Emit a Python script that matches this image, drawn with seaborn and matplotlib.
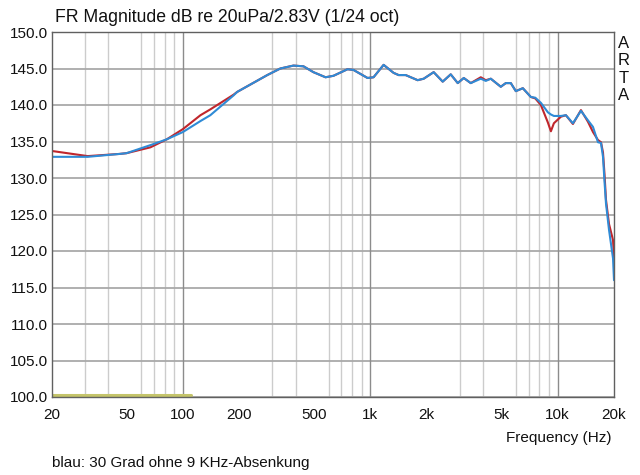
import numpy as np
import pandas as pd
import matplotlib
matplotlib.use("Agg")
import matplotlib.pyplot as plt
import seaborn as sns
from matplotlib.ticker import FixedLocator, LogLocator, NullFormatter

# ---- data ----
freq = [20, 31, 46, 50, 67, 82, 100, 124, 140, 186, 195, 282, 331, 389, 440, 497,
        577, 636, 756, 814, 967, 1041, 1178, 1332, 1417, 1545, 1790, 1928, 2180,
        2436, 2688, 2930, 3155, 3439, 3890, 4137, 4399, 4974, 5290, 5626, 5984,
        6522, 7196, 7600, 8140, 8874, 9208, 9554, 10416, 11075, 12072, 13320,
        14522, 15444, 16426, 17044, 17470, 17800, 18126, 18810, 19758, 20000]

red_db = [133.7, 133.0, 133.3, 133.4, 134.2, 135.3, 136.7, 138.6, 139.4, 141.4,
          141.8, 144.1, 145.0, 145.4, 145.3, 144.5, 143.8, 144.0, 144.9, 144.8,
          143.7, 143.8, 145.5, 144.4, 144.1, 144.1, 143.4, 143.6, 144.5, 143.2,
          144.2, 143.0, 143.7, 143.0, 143.8, 143.4, 143.6, 142.5, 143.0, 143.0,
          141.9, 142.3, 141.1, 140.9, 140.0, 137.6, 136.4, 137.5, 138.4, 138.6,
          137.4, 139.3, 137.7, 136.3, 135.2, 134.9, 133.5, 130.5, 127.0, 123.7,
          121.5, 119.0]

blue_db = [132.9, 132.9, 133.3, 133.4, 134.5, 135.3, 136.3, 137.8, 138.6, 141.3,
           141.8, 144.1, 145.0, 145.4, 145.3, 144.5, 143.8, 144.0, 144.9, 144.8,
           143.7, 143.8, 145.5, 144.4, 144.1, 144.1, 143.4, 143.6, 144.5, 143.2,
           144.2, 143.0, 143.7, 143.0, 143.6, 143.3, 143.6, 142.5, 143.0, 143.0,
           141.9, 142.3, 141.1, 141.0, 140.3, 139.0, 138.7, 138.5, 138.5, 138.6,
           137.5, 139.2, 137.9, 137.0, 134.9, 134.8, 132.9, 129.5, 126.5, 122.9,
           119.0, 116.0]

marker_freq = [20, 110]
marker_db = [100.3, 100.3]

x_ticks = [20, 50, 100, 200, 500, 1000, 2000, 5000, 10000, 20000]
x_labels = ["20", "50", "100", "200", "500", "1k", "2k", "5k", "10k", "20k"]
y_ticks = [100, 105, 110, 115, 120, 125, 130, 135, 140, 145, 150]
decades = [100, 1000, 10000]

# ---- plotting ----
sns.set_style("white")
plt.rcParams["font.family"] = ["Liberation Sans", "DejaVu Sans"]

fig = plt.figure(figsize=(6.4, 4.75), dpi=100)
ax = fig.add_axes([52/640, 1-397/475, (614-52)/640, (397-32)/475])

df_red = pd.DataFrame({"f": freq, "db": red_db})
df_blue = pd.DataFrame({"f": freq, "db": blue_db})
df_mark = pd.DataFrame({"f": marker_freq, "db": marker_db})

ax.set_xscale("log")
ax.set_xlim(20, 20000)
ax.set_ylim(100, 150)

# grid
ax.xaxis.set_minor_locator(LogLocator(base=10, subs=np.arange(2, 10)))
ax.xaxis.set_minor_formatter(NullFormatter())
ax.xaxis.set_major_locator(FixedLocator(x_ticks))
ax.set_xticklabels(x_labels)
ax.set_yticks(y_ticks)
ax.set_yticklabels([f"{v:.1f}" for v in y_ticks])
ax.grid(False)
ax.grid(True, which="minor", axis="x", color="#cccccc", lw=1.0)
ax.grid(True, which="major", axis="y", color="#a9a9a9", lw=1.3)
for d in decades:
    ax.axvline(d, color="#8c8c8c", lw=1.0, zorder=0.6)
ax.set_axisbelow(True)

sns.lineplot(data=df_mark, x="f", y="db", ax=ax, color="#c4c46a", lw=2.2,
             estimator=None, sort=False)
sns.lineplot(data=df_red, x="f", y="db", ax=ax, color="#c0262c", lw=1.5,
             estimator=None, sort=False)
sns.lineplot(data=df_blue, x="f", y="db", ax=ax, color="#2f8bd6", lw=1.5,
             estimator=None, sort=False)

ax.set_xlabel("")
ax.set_ylabel("")
ax.tick_params(axis="both", which="both", length=0, labelsize=11,
               colors="#111111")
ax.tick_params(axis="x", pad=8)
ax.tick_params(axis="y", pad=3)
for s in ax.spines.values():
    s.set_color("#606060")
    s.set_linewidth(1.0)

fig.text(55/640, 1-17/475, "FR Magnitude dB re 20uPa/2.83V (1/24 oct)",
         fontsize=12.7, ha="left", va="center", color="#111111")
fig.text(624/640, 1-36/475, "A\nR\nT\nA", fontsize=12, ha="center", va="top",
         linespacing=1.2, color="#111111")
fig.text(612/640, 1-438/475, "Frequency (Hz)", fontsize=11, ha="right",
         va="center", color="#111111")
fig.text(52/640, 1-463/475, "blau: 30 Grad ohne 9 KHz-Absenkung", fontsize=11,
         ha="left", va="center", color="#111111")

fig.savefig("out.png", dpi=100)
